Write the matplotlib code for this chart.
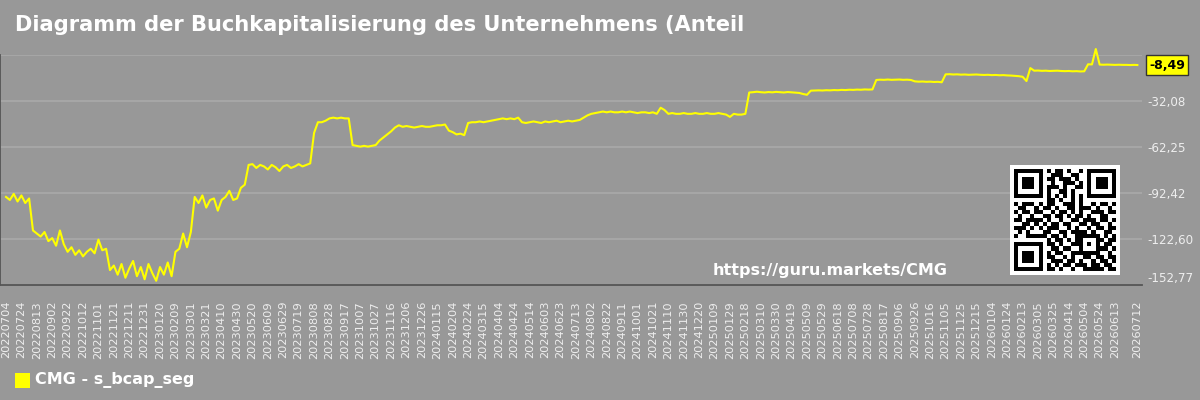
import numpy as np
import pandas as pd
import matplotlib
matplotlib.use("Agg")
import matplotlib.pyplot as plt

vals_2022 = [-95, -97, -93, -98, -94, -99, -96,
             -117, -119, -121, -118, -124, -122, -127, -117, -126, -131, -128, -133,
             -130, -134, -131, -129, -132, -123, -130, -129,
             -143, -140, -146, -139, -148, -142, -137, -147, -141, -149]
vals_2023 = [-139, -145, -150, -141, -146, -138, -147,
             -131, -129, -119, -128, -118,
             -95, -99, -94, -102, -97, -96, -104, -97, -95, -91, -97, -96,
             -89, -87,
             -74, -73.5, -76, -74, -75, -77, -74, -75.5, -78, -75, -74, -76, -75, -73.5, -75, -74, -73,
             -53, -46, -46, -45, -43.5, -43, -43.5, -43, -43.5, -43.5,
             -61, -61.5, -62, -61.5, -62, -61.5, -61,
             -58, -56, -54, -52, -49.5, -48,
             -49, -48.5, -49, -49.5, -49, -48.5]
vals_2024 = [-49, -49, -48.5, -48, -48, -47.5,
             -51.5, -52.5, -54, -53.5, -54.5,
             -46.5, -46, -46, -45.5, -46, -45.5, -45,
             -44.5, -44, -43.5, -44, -43.5, -44, -43,
             -46, -46.5, -46, -45.5, -46, -46.5, -45.5, -46, -45.5, -45, -46, -45.5, -45, -45.5, -45, -44.5,
             -43, -41.5, -40.5, -40,
             -39.5, -39, -39.5, -39, -39.5, -39.5, -39, -39.5, -39, -39.5, -40, -39.5, -39.5, -40, -39.5, -40.5,
             -36.5, -38,
             -40.5, -40, -40.5, -40.5, -40, -40.5, -40.5, -40, -40.5, -40.5, -40, -40.5]
vals_2025 = [-40.5, -40, -40.5, -41, -42.5, -40.5, -41, -41, -40.5,
             -26.5, -26.3, -26, -26.3, -26.5, -26.2, -26.4, -26.1, -26.3, -26.5, -26.2, -26.4, -26.6, -26.8,
             -27.5, -28,
             -25.3, -25.2, -25.1, -25.2, -25, -25.1, -24.9, -25, -24.8, -24.9, -24.7, -24.8, -24.6, -24.7,
             -24.5, -24.6, -24.5,
             -18.3, -18.1, -18.2, -18, -18.2, -18.1, -18, -18.2, -18.1, -18.3,
             -19.2, -19.4, -19.3, -19.5, -19.4, -19.6, -19.5, -19.8,
             -14.6, -14.5, -14.7, -14.6, -14.8, -14.7, -14.9, -14.8, -14.7, -14.9, -15, -14.9, -15.1, -15]
vals_2026 = [-15.2, -15.1, -15.3, -15.4, -15.6, -15.8, -16.2,
             -19, -10.5, -12.2,
             -12.1, -12.3, -12.2, -12.4, -12.3, -12.2, -12.4, -12.5, -12.4, -12.6, -12.5, -12.7, -12.6,
             -8, -8.1, 2, -8.2, -8.3, -8.2, -8.3, -8.4, -8.3, -8.4, -8.4, -8.5, -8.4,
             -8.49]

start_date = "2022-07-04"
end_date = "2026-07-12"
last_value = -8.49
y_ticks = [-152.77, -122.60, -92.42, -62.25, -32.08, -1.91]

title = "Diagramm der Buchkapitalisierung des Unternehmens (Anteil"
series_name = "CMG - s_bcap_seg"
watermark = "https://guru.markets/CMG"

qr_rows = [
    "1111111010110100101111111",
    "1000001001110011001000001",
    "1011101011011101001011101",
    "1011101001001110101011101",
    "1011101011101001101011101",
    "1000001010011010001000001",
    "1111111010101010101111111",
    "0000000011010010100000000",
    "1011101011001110100101101",
    "0110010110100110111010010",
    "1011011001011010100111011",
    "0100100110110101101001100",
    "1101111010010011011101101",
    "0011010101101100110110010",
    "1110101011100101001011011",
    "0101000110011011110100110",
    "1001111101101001111110101",
    "0000000010110101100011011",
    "1111111011010011101010110",
    "1000001001101100100011101",
    "1011101010110011111110010",
    "1011101011001010011011011",
    "1011101001110110100101101",
    "1000001010101101110110110",
    "1111111011010010011111011",
]

BG = "#989898"
YELLOW = "#ffff00"

values = np.array(vals_2022 + vals_2023 + vals_2024 + vals_2025 + vals_2026, dtype=float)
t0 = pd.Timestamp(start_date)
t1 = pd.Timestamp(end_date)
dates = list(pd.date_range(t0, periods=len(values) - 1, freq="5D")) + [t1]
x = np.array([(d - t0).days for d in dates])

fig = plt.figure(figsize=(12, 4), dpi=100, facecolor=BG)
ax = fig.add_axes([0.0, 115 / 400, 1142 / 1200, 230 / 400])
ax.set_facecolor(BG)

ax.plot(x, values, color=YELLOW, lw=1.5, clip_on=False, zorder=3)

total_days = (t1 - t0).days
ax.set_xlim(-7.8, 1475)
ax.set_ylim(y_ticks[0], y_ticks[-1])

# x ticks every 20 days plus the last date
tick_days = list(range(0, total_days - 20, 20)) + [total_days]
ax.set_xticks(tick_days)
ax.set_xticklabels([(t0 + pd.Timedelta(days=d)).strftime("%Y%m%d") for d in tick_days],
                   rotation=90, fontsize=8.2, color="#eeeeee")
ax.tick_params(axis="x", length=0, pad=11.5)

ax.set_yticks(y_ticks)
ax.yaxis.tick_right()
ylabels = [f"{v:.2f}".replace(".", ",") for v in y_ticks]
ylabels[-1] = ""  # top tick is hidden behind the value tag
ax.set_yticklabels(ylabels, fontsize=8.6, color="#eeeeee")
ax.tick_params(axis="y", length=0, pad=4)
ax.get_yticklabels()[0].set_va("bottom")

ax.yaxis.grid(True, color="#a8a8a8", lw=1.3)
ax.set_axisbelow(True)
for side in ["top", "right"]:
    ax.spines[side].set_visible(False)
for side in ["left", "bottom"]:
    ax.spines[side].set_color("#555555")
    ax.spines[side].set_linewidth(1.3)

# last value tag
ax.annotate(f"{last_value:.2f}".replace(".", ","), xy=(1.0, last_value),
            xycoords=("axes fraction", "data"), xytext=(5, 0), textcoords="offset points",
            ha="left", va="center", fontsize=9, fontweight="bold", color="black",
            bbox=dict(boxstyle="square,pad=0.25", fc=YELLOW, ec="#333333", lw=1))

fig.text(15 / 1200, 1 - 25 / 400, title, fontsize=15.1, fontweight="bold",
         color="white", ha="left", va="center")

fig.text(713 / 1200, 1 - 270 / 400, watermark, fontsize=11.5, fontweight="bold",
         color="white", ha="left", va="center")

# legend
fig.patches.append(plt.Rectangle((15 / 1200, 1 - 388 / 400), 15 / 1200, 15 / 400,
                                 transform=fig.transFigure, fc=YELLOW, ec="none"))
fig.text(35 / 1200, 1 - 380 / 400, series_name, fontsize=11.5, fontweight="bold",
         color="white", ha="left", va="center")

# QR code
qr = np.array([[int(c) for c in row] for row in qr_rows])
qr = np.pad(qr, 1)
qax = fig.add_axes([1010 / 1200, 1 - 275 / 400, 110 / 1200, 110 / 400])
qax.imshow(qr, cmap="gray_r", interpolation="nearest", vmin=0, vmax=1)
qax.axis("off")

fig.savefig("out.png", dpi=100, facecolor=BG)
